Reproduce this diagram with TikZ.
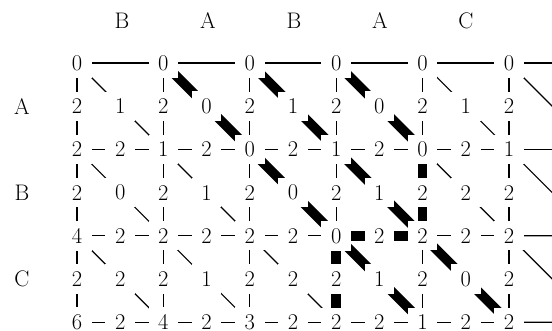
\documentclass[tikz,border=0pt]{standalone}
\usepackage{fontspec}
\pgfdeclarelayer{bg}
\pgfsetlayers{bg,main}
\begin{document}
\begin{tikzpicture}[x=1pt,y=1pt,
  txt/.style={font=\fontsize{22.5}{26}\selectfont, inner sep=0pt},
  cell/.style={txt},
  mask/.style={fill=white},
  edgeline/.style={line width=1.2pt},
  pathline/.style={line width=9.5pt},
]
\useasboundingbox (0,0) rectangle (552,-331);
% headers
\node[txt] (hB1) at (122,-21) {B};
\node[txt] (hA1) at (208,-21) {A};
\node[txt] (hB2) at (294,-21) {B};
\node[txt] (hA2) at (380,-21) {A};
\node[txt] (hC1) at (466,-21) {C};
\node[txt] (rA) at (22,-106.3) {A};
\node[txt] (rB) at (22,-192.7) {B};
\node[txt] (rC) at (22,-279.1) {C};
% vertices
\foreach \v [count=\j from 0] in {0,0,0,0,0,0}
  \node[cell] (v0\j) at ({77+86.4*\j},-63) {\v};
\foreach \v [count=\j from 0] in {2,1,0,1,0,1}
  \node[cell] (v1\j) at ({77+86.4*\j},-149.4) {\v};
\foreach \v [count=\j from 0] in {4,2,2,0,2,2}
  \node[cell] (v2\j) at ({77+86.4*\j},-235.8) {\v};
\foreach \v [count=\j from 0] in {6,4,3,2,1,2}
  \node[cell] (v3\j) at ({77+86.4*\j},-322.2) {\v};
% diagonal labels
\foreach \v [count=\j from 0] in {1,0,1,0,1}
  \node[cell] (d0\j) at ({120.2+86.4*\j},-106.2) {\v};
\foreach \v [count=\j from 0] in {0,1,0,1,2}
  \node[cell] (d1\j) at ({120.2+86.4*\j},-192.6) {\v};
\foreach \v [count=\j from 0] in {2,1,2,1,0}
  \node[cell] (d2\j) at ({120.2+86.4*\j},-279) {\v};
% vertical labels
\foreach \i in {0,1,2}
  \foreach \j in {0,...,5}
    \node[cell] (u\i\j) at ({77+86.4*\j},{-106.2-86.4*\i}) {2};
% horizontal labels
\foreach \i in {1,2,3}
  \foreach \j in {0,...,4}
    \node[cell] (h\i\j) at ({120.2+86.4*\j},{-63-86.4*\i}) {2};
% free ends beyond the right edge
\foreach \i in {0,...,3}
  \coordinate (e\i) at ({77+86.4*6},{-63-86.4*\i});
\begin{pgfonlayer}{bg}
\clip (0,0) rectangle (552,-331);
% horizontal edges
\foreach \i in {0,...,3}{
  \foreach \j in {0,...,4}{
    \pgfmathtruncatemacro\k{\j+1}
    \draw[edgeline] (v\i\j.center) -- (v\i\k.center);
  }
  \draw[edgeline] (v\i5.center) -- (e\i);
}
% vertical and diagonal edges
\foreach \i in {0,1,2}{
  \pgfmathtruncatemacro\k{\i+1}
  \foreach \j in {0,...,5}
    \draw[edgeline] (v\i\j.center) -- (v\k\j.center);
  \foreach \j in {0,...,4}{
    \pgfmathtruncatemacro\l{\j+1}
    \draw[edgeline] (v\i\j.center) -- (v\k\l.center);
  }
  \draw[edgeline] (v\i5.center) -- (e\k);
}
% optimal path edges
\draw[pathline] (v01.center) -- (v12.center);
\draw[pathline] (v02.center) -- (v13.center);
\draw[pathline] (v03.center) -- (v14.center);
\draw[pathline] (v12.center) -- (v23.center);
\draw[pathline] (v13.center) -- (v24.center);
\draw[pathline] (v14.center) -- (v24.center);
\draw[pathline] (v23.center) -- (v24.center);
\draw[pathline] (v23.center) -- (v33.center);
\draw[pathline] (v23.center) -- (v34.center);
\draw[pathline] (v24.center) -- (v35.center);
% white gaps round every number
\foreach \i in {0,...,3}
  \foreach \j in {0,...,5}
    \fill[mask] ([xshift=-9.5pt,yshift=-7pt]v\i\j.south west) rectangle ([xshift=9.5pt,yshift=7pt]v\i\j.north east);
\foreach \i in {0,1,2}{
  \foreach \j in {0,...,4}
    \fill[mask] ([xshift=-9.5pt,yshift=-7pt]d\i\j.south west) rectangle ([xshift=9.5pt,yshift=7pt]d\i\j.north east);
  \foreach \j in {0,...,5}
    \fill[mask] ([xshift=-9.5pt,yshift=-7pt]u\i\j.south west) rectangle ([xshift=9.5pt,yshift=7pt]u\i\j.north east);
}
\foreach \i in {1,2,3}
  \foreach \j in {0,...,4}
    \fill[mask] ([xshift=-9.5pt,yshift=-7pt]h\i\j.south west) rectangle ([xshift=9.5pt,yshift=7pt]h\i\j.north east);
\end{pgfonlayer}
\end{tikzpicture}
\end{document}
